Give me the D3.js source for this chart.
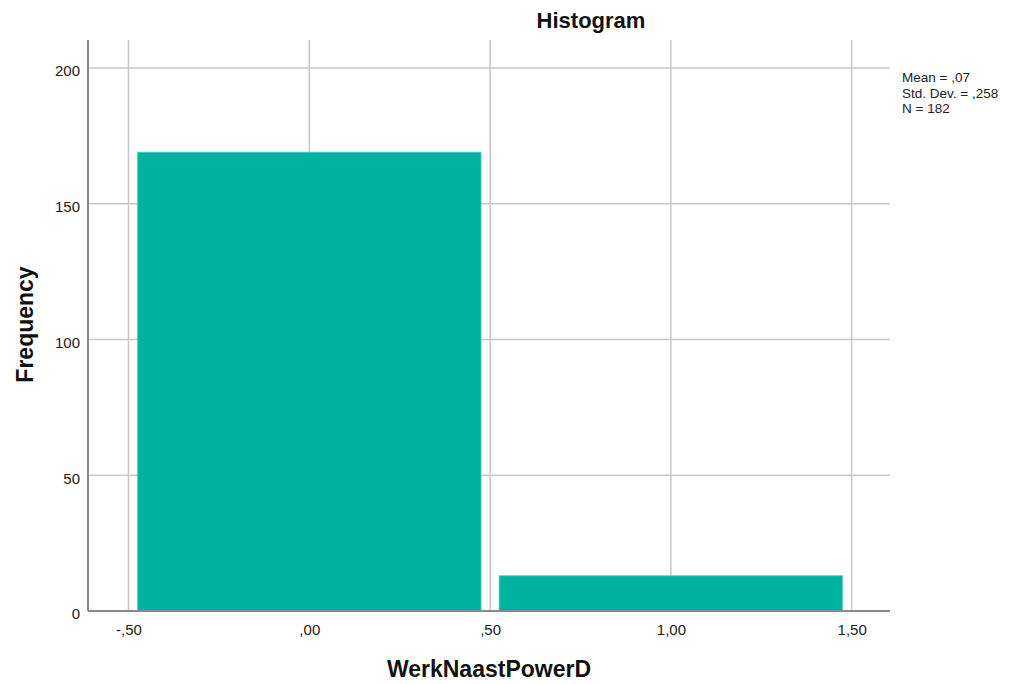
<!DOCTYPE html>
<html>
<head>
<meta charset="utf-8">
<script src="https://cdn.jsdelivr.net/npm/d3@7"></script>
<style>
  html, body { margin: 0; padding: 0; background: #fff; }
  svg { display: block; font-family: "Liberation Sans", Arial, sans-serif; }
</style>
</head>
<body>
<svg id="chart" width="1015" height="684"></svg>
<script>
// ---- data ----
const binStarts = [-0.5, 0.5];
const binEnds = [0.5, 1.5];
const frequencies = [169, 13];
const xTicks = [-0.5, 0, 0.5, 1.0, 1.5];
const xTickLabels = ["-,50", ",00", ",50", "1,00", "1,50"];
const yTicks = [0, 50, 100, 150, 200];
const statsLines = ["Mean = ,07", "Std. Dev. = ,258", "N = 182"];
const chartTitle = "Histogram";
const xTitle = "WerkNaastPowerD";
const yTitle = "Frequency";

// ---- layout ----
const svg = d3.select("#chart");
const pLeft = 88, pRight = 890, pTop = 40, pBottom = 611;

const x = d3.scaleLinear().domain([-0.612, 1.606]).range([pLeft, pRight]);
const y = d3.scaleLinear().domain([0, 210.3]).range([pBottom, pTop]);

const gridColor = "#c8c8c8";
const axisColor = "#8a8a8a";
const barColor = "#00b3a0";
const fontFam = "Liberation Sans, Arial, sans-serif";

// gridlines
svg.append("g").selectAll("line").data(yTicks.filter(d => d > 0)).join("line")
  .attr("x1", pLeft).attr("x2", pRight)
  .attr("y1", d => y(d)).attr("y2", d => y(d))
  .attr("stroke", gridColor).attr("stroke-width", 1.5);

svg.append("g").selectAll("line").data(xTicks).join("line")
  .attr("x1", d => x(d)).attr("x2", d => x(d))
  .attr("y1", pTop).attr("y2", pBottom)
  .attr("stroke", gridColor).attr("stroke-width", 1.5);

// bars
const inset = 9;
const bins = frequencies.map((f, i) => ({ x0: binStarts[i], x1: binEnds[i], f }));
svg.append("g").selectAll("rect").data(bins).join("rect")
  .attr("x", d => x(d.x0) + inset)
  .attr("width", d => x(d.x1) - x(d.x0) - 2 * inset)
  .attr("y", d => y(d.f))
  .attr("height", d => y(0) - y(d.f))
  .attr("fill", barColor)
  .attr("stroke", "#5fd3c4").attr("stroke-width", 0.8);

// axes lines
svg.append("line").attr("x1", pLeft).attr("x2", pLeft).attr("y1", pTop).attr("y2", pBottom)
  .attr("stroke", axisColor).attr("stroke-width", 2);
svg.append("line").attr("x1", pLeft).attr("x2", pRight).attr("y1", pBottom).attr("y2", pBottom)
  .attr("stroke", axisColor).attr("stroke-width", 2);

// tick labels via d3 axes (no tick marks / domain)
const yAxis = d3.axisLeft(y).tickValues(yTicks).tickSize(0).tickPadding(8);
const gy = svg.append("g").attr("transform", `translate(${pLeft},0)`).call(yAxis);
gy.select(".domain").remove();
gy.selectAll("text").attr("font-size", 15).attr("fill", "#222")
  .attr("font-family", fontFam).attr("dy", "0.52em");

const xAxis = d3.axisBottom(x).tickValues(xTicks).tickSize(0).tickPadding(13)
  .tickFormat((d, i) => xTickLabels[i]);
const gx = svg.append("g").attr("transform", `translate(0,${pBottom})`).call(xAxis);
gx.select(".domain").remove();
gx.selectAll("text").attr("font-size", 15).attr("fill", "#222")
  .attr("font-family", fontFam);

// titles
svg.append("text").attr("x", 591).attr("y", 28).attr("text-anchor", "middle")
  .attr("font-size", 22).attr("font-weight", "bold").attr("fill", "#111").text(chartTitle);

svg.append("text").attr("x", 489).attr("y", 677).attr("text-anchor", "middle")
  .attr("font-size", 23).attr("font-weight", "bold").attr("fill", "#111").text(xTitle);

svg.append("text").attr("transform", `translate(33,324.5) rotate(-90)`)
  .attr("text-anchor", "middle")
  .attr("font-size", 23).attr("font-weight", "bold").attr("fill", "#111").text(yTitle);

// stats
svg.append("g").selectAll("text").data(statsLines).join("text")
  .attr("x", 902).attr("y", (d, i) => 82 + i * 15.5)
  .attr("font-size", 13.5).attr("fill", "#222")
  .text(d => d);
</script>
</body>
</html>
